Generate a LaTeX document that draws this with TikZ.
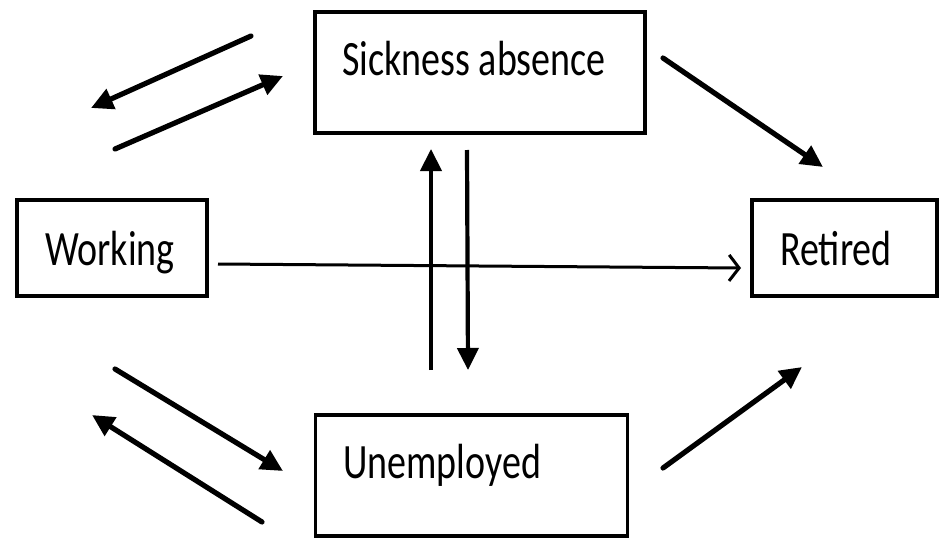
\documentclass[tikz,border=0pt]{standalone}
\usepackage{fontspec}
\setmainfont{Carlito}
\usetikzlibrary{arrows.meta}
\begin{document}
\begin{tikzpicture}[x=1pt,y=-1pt,
  statebox/.style={draw=black,line width=3.4pt,rectangle,inner sep=0pt},
  lbl/.style={anchor=base west,inner sep=0pt,font=\fontsize{38}{40}\selectfont},
  thick arrow/.style={line width=5.2pt,-{Triangle[length=22pt,width=21pt]}},
  thin arrow/.style={line width=3pt,-{Straight Barb[length=10pt,width=26pt,line width=3pt]}}]
\useasboundingbox (0,0) rectangle (939,538);
% boxes
\node[statebox,minimum width=330pt,minimum height=121pt] (sick) at (480,72.5) {};
\node[statebox,minimum width=190pt,minimum height=96pt] (work) at (112,248) {};
\node[statebox,minimum width=185pt,minimum height=96pt] (ret) at (844.5,248) {};
\node[statebox,minimum width=312pt,minimum height=121pt] (unemp) at (471.5,475.5) {};
% labels
\node[lbl] (tsick) at (342,75) {\scalebox{1}[1.3]{Sickness absence}};
\node[lbl] (twork) at (45,265) {\scalebox{1}[1.3]{Working}};
\node[lbl] (tret) at (780,265) {\scalebox{1}[1.3]{Retired}};
\node[lbl] (tunemp) at (343,478) {\scalebox{1}[1.3]{Unemployed}};
% arrow end points
\coordinate (a1s) at (251,36);  \coordinate (a1e) at (91,108);
\coordinate (a2s) at (115,149); \coordinate (a2e) at (283,76);
\coordinate (a3s) at (663,58);  \coordinate (a3e) at (823,167);
\coordinate (hs) at (218,264);  \coordinate (he) at (741,268);
\coordinate (ups) at (431,370); \coordinate (upe) at (431,149);
\coordinate (dns) at (467,150); \coordinate (dne) at (468,370);
\coordinate (b1s) at (115,369); \coordinate (b1e) at (283,471);
\coordinate (b2s) at (262,522); \coordinate (b2e) at (92,415);
\coordinate (b3s) at (663,468); \coordinate (b3e) at (802,367);
% arrows
\draw[thick arrow,line cap=round] (a1s) -- (a1e);
\draw[thick arrow,line cap=round] (a2s) -- (a2e);
\draw[thick arrow,line cap=round] (a3s) -- (a3e);
\draw[thin arrow] (hs) -- (he);
\draw[thick arrow,line width=4.2pt] (ups) -- (upe);
\draw[thick arrow,line width=4.2pt] (dns) -- (dne);
\draw[thick arrow,line cap=round] (b1s) -- (b1e);
\draw[thick arrow,line cap=round] (b2s) -- (b2e);
\draw[thick arrow,line cap=round] (b3s) -- (b3e);
\end{tikzpicture}
\end{document}
